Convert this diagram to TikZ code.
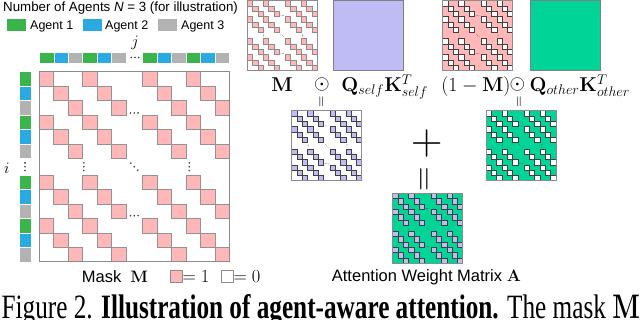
\RequirePackage{fix-cm}
\documentclass[tikz,border=0pt]{standalone}
\usepackage[no-math]{fontspec}
\usepackage{graphicx}
\setmainfont{Liberation Sans}
\newfontfamily\capfont{Liberation Serif}
\definecolor{agentA}{RGB}{57,181,74}
\definecolor{agentB}{RGB}{41,171,226}
\definecolor{agentC}{RGB}{178,178,178}
\definecolor{maskpink}{RGB}{255,183,183}
\definecolor{selfblue}{RGB}{191,187,245}
\definecolor{othergreen}{RGB}{0,212,150}
\tikzset{
  stripcell/.style={draw=white,line width=0.4pt},
  keybox/.style={inner sep=0pt,minimum width=19pt,minimum height=11.7pt},
  bigcell/.style={fill=maskpink,draw=gray!85,line width=0.6pt},
  pinkcell/.style={fill=maskpink,draw=gray!90,line width=0.4pt},
  whitecell/.style={fill=white,draw=black!75,line width=0.45pt},
  selfcell/.style={fill=selfblue,draw=black!75,line width=0.45pt},
  gridframe/.style={draw=gray!90,line width=0.8pt},
  title/.style={inner sep=0pt,font=\fontsize{13.3}{15}\selectfont},
  keytext/.style={inner sep=0pt,font=\fontsize{12.5}{15}\selectfont},
  idx/.style={inner sep=0pt,font=\fontsize{16}{18}\selectfont},
  termlbl/.style={inner sep=0pt,font=\fontsize{20}{22}\selectfont},
  matlbl/.style={inner sep=0pt,font=\fontsize{16.5}{19}\selectfont},
  eqsign/.style={inner sep=0pt,rotate=90}
}
\newcommand{\attgrid}[5]{%
  \begin{scope}[shift={(#1,#2)},scale=#3]
    \fill[#4] (0,0) rectangle (190,190);
    \foreach \bx in {0,43.33,103.33,146.67}
      \foreach \by in {0,43.33,103.33,146.67}
        \foreach \k in {0,1,2}
          \filldraw[#5] ({\bx+\k*14.444},{\by+\k*14.444}) rectangle ++(14.444,14.444);
    \foreach \dx/\dy in {91.2/41.3,95/41.3,98.8/41.3,91.2/144,95/144,98.8/144,
        44.5/91.2,44.5/95,44.5/98.8,150/91.2,150/95,150/98.8,91.5/91.5,95/95,98.5/98.5}
      \fill[black!75] (\dx,\dy) circle (0.9);
    \draw[gridframe] (0,0) rectangle (190,190);
  \end{scope}}
\begin{document}
\begin{tikzpicture}[x=1pt,y=-1pt]
\useasboundingbox (0,0) rectangle (640,320);
\node[title,anchor=base west] (Title) at (3,11.7) {Number of Agents \textit{N} = 3 (for illustration)};
\node[keybox,fill=agentA] (KeyA) at (16.5,24.9) {};
\node[keytext,anchor=base west] (KeyAText) at (30,29.5) {Agent 1};
\node[keybox,fill=agentB] (KeyB) at (92.5,24.9) {};
\node[keytext,anchor=base west] (KeyBText) at (105,29.5) {Agent 2};
\node[keybox,fill=agentC] (KeyC) at (167.5,24.9) {};
\node[keytext,anchor=base west] (KeyCText) at (181,29.5) {Agent 3};
\node[idx] (ColIdx) at (135,43) {$j$};
\node[idx] (RowIdx) at (6.7,168) {$i$};
\foreach \bx in {0,43.33,103.33,146.67}
  \foreach \k/\col in {0/agentA,1/agentB,2/agentC}{
    \filldraw[stripcell,fill=\col] ({39.3+\bx+\k*14.444},52.3) rectangle ++(14.444,11);
    \filldraw[stripcell,fill=\col] (19.3,{71.7+\bx+\k*14.444}) rectangle ++(11.4,14.444);
  }
\foreach \d in {-3.8,0,3.8}{
  \fill[black!80] (135+\d,57.5) circle (0.9);
  \fill[black!80] (25,166.7+\d) circle (0.9);
}
\attgrid{39.3}{71.7}{1}{white}{bigcell}
\node[matlbl,anchor=base west] (MaskLbl) at (81.7,282.7) {Mask\ \ $\mathbf{M}$};
\filldraw[pinkcell,line width=0.6pt] (170,270.3) rectangle (182.3,282.3);
\node[matlbl,anchor=base west,font=\fontsize{18.5}{20}\selectfont] (OneLbl) at (182.3,282.7) {$=1$};
\filldraw[fill=white,draw=gray!90,line width=0.6pt] (221.7,270.3) rectangle (233.3,282.3);
\node[matlbl,anchor=base west,font=\fontsize{18.5}{20}\selectfont] (ZeroLbl) at (233.3,282.7) {$=0$};
\attgrid{247.3}{0.5}{0.3684}{white}{pinkcell}
\filldraw[fill=selfblue,draw=gray,line width=0.8pt] (333.3,0.5) rectangle ++(70,70);
\attgrid{442.7}{0.5}{0.3684}{maskpink}{whitecell}
\filldraw[fill=othergreen,draw=gray,line width=0.8pt] (530,0.5) rectangle ++(70,70);
\node[termlbl,anchor=base] (MTerm) at (282,91.7) {$\mathbf{M}$};
\node[termlbl,anchor=base] (OdotA) at (322,89.5) {$\odot$};
\node[termlbl,anchor=base west] (SelfTerm) at (341.2,91.7) {$\mathbf{Q}_{self}\mathbf{K}^T_{self}$};
\node[termlbl,anchor=base west] (InvTerm) at (441.2,91.7) {$(1-\mathbf{M})$};
\node[termlbl,anchor=base] (OdotB) at (517.5,89.5) {$\odot$};
\node[termlbl,anchor=base west] (OtherTerm) at (529.5,91.7) {$\mathbf{Q}_{other}\mathbf{K}^T_{other}$};
\node[eqsign,font=\fontsize{15}{15}\selectfont] (EqA) at (322.3,101.7) {$=$};
\node[eqsign,font=\fontsize{15}{15}\selectfont] (EqB) at (520,101.7) {$=$};
\attgrid{291.7}{110.7}{0.3684}{white}{selfcell}
\attgrid{486}{110.7}{0.3684}{othergreen}{whitecell}
\node[inner sep=0pt,font=\fontsize{44}{44}\selectfont] (Plus) at (426.7,144) {$+$};
\node[eqsign,font=\fontsize{34}{34}\selectfont] (EqC) at (426.3,179) {$=$};
\attgrid{392.7}{193.3}{0.3684}{othergreen}{selfcell}
\node[matlbl,anchor=base west] (AttLbl) at (331.7,281.7) {Attention Weight Matrix $\mathbf{A}$};
\node[anchor=base west,inner sep=0pt] (Caption) at (1.5,318.5) {\resizebox{638pt}{24pt}{\capfont Figure 2. \textbf{Illustration of agent-aware attention.} The mask $\mathbf{M}$}};
\end{tikzpicture}
\end{document}
